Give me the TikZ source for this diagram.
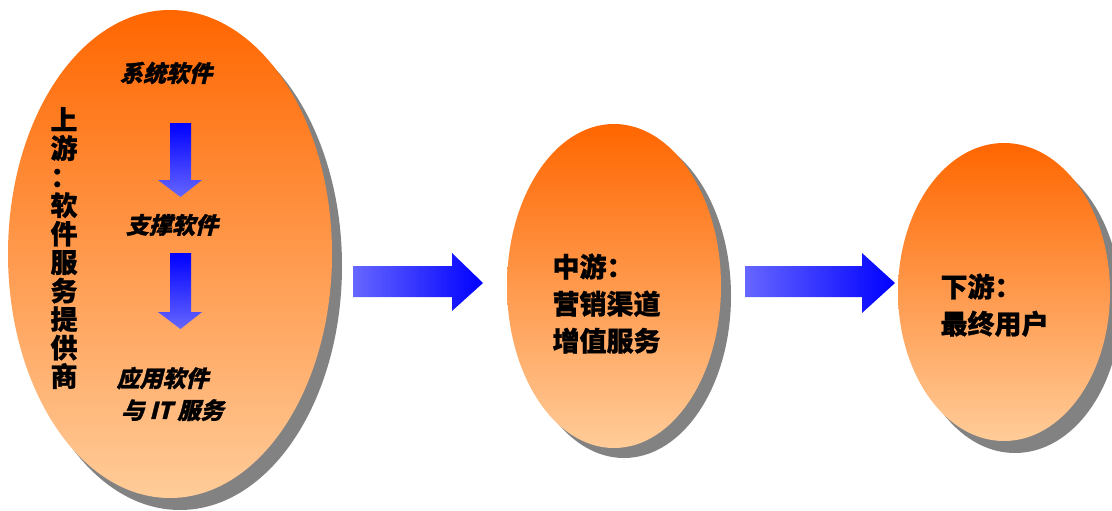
\documentclass[tikz,border=0pt]{standalone}
\usepackage{fontspec}
\newfontfamily\cjk[FakeBold=0.9]{Noto Sans CJK SC}
\newfontfamily\cjkit[FakeSlant=0.25,FakeBold=1.2]{Noto Sans CJK SC}
\usetikzlibrary{shapes.geometric}
\definecolor{ortop}{HTML}{FF6600}
\definecolor{orbot}{HTML}{FFCC99}
\definecolor{shd}{HTML}{828282}
\definecolor{bdark}{HTML}{0000FF}
\definecolor{blight}{HTML}{6666FF}
\tikzset{
  egg/.style={ellipse, inner sep=0pt, top color=ortop, bottom color=orbot, middle color=ortop!50!orbot},
  eggshadow/.style={ellipse, inner sep=0pt, fill=shd},
  lbl/.style={font=\cjk\bfseries\fontsize{27}{37}\selectfont, align=left, text=black},
  itl/.style={font=\cjkit\bfseries\fontsize{23}{32}\selectfont, align=center, text=black},
}
\begin{document}
\begin{tikzpicture}[x=1pt,y=-1pt]
\useasboundingbox (0,0) rectangle (1112,511);
% shadows
\node[eggshadow, minimum width=324pt, minimum height=488pt] (s1) at (180,266) {};
\node[eggshadow, minimum width=214pt, minimum height=324pt] (s2) at (624,296) {};
\node[eggshadow, minimum width=212pt, minimum height=298pt] (s3) at (1015,304) {};
% ellipses
\node[egg, minimum width=324pt, minimum height=488pt] (e1) at (170,254) {};
\node[egg, minimum width=214pt, minimum height=324pt] (e2) at (614,286) {};
\node[egg, minimum width=212pt, minimum height=298pt] (e3) at (1004,292) {};
% big arrows
\shade[left color=blight, right color=bdark]
  (353,266) -- (452,266) -- (452,253) -- (483,283) -- (452,311) -- (452,297) -- (353,297) -- cycle;
\shade[left color=blight, right color=bdark]
  (745,266) -- (862,266) -- (862,253) -- (895,283) -- (862,313) -- (862,297) -- (745,297) -- cycle;
% small arrows
\shade[top color=bdark, bottom color=blight]
  (170,123) -- (191,123) -- (191,180) -- (202,180) -- (180.5,197) -- (158,180) -- (170,180) -- cycle;
\shade[top color=bdark, bottom color=blight]
  (170,253) -- (191,253) -- (191,312) -- (202,312) -- (180.5,329) -- (158,312) -- (170,312) -- cycle;
% texts
\node[itl] (t1) at (166,73) {系统软件};
\node[itl] (t2) at (172,225) {支撑软件};
\node[itl, align=left] (t3) at (170,394) {应用软件\\\hspace*{0.2em}与 IT 服务};
\node[font=\cjk\bfseries\fontsize{27}{28.5}\selectfont, align=center] (v) at (64,248) {上\\游\\：\\软\\件\\服\\务\\提\\供\\商};
\node[lbl, anchor=north west] (m) at (549,250) {中游：\\营销渠道\\增值服务};
\node[lbl, anchor=north west] (d) at (937,270) {下游：\\最终用户};
\end{tikzpicture}
\end{document}
